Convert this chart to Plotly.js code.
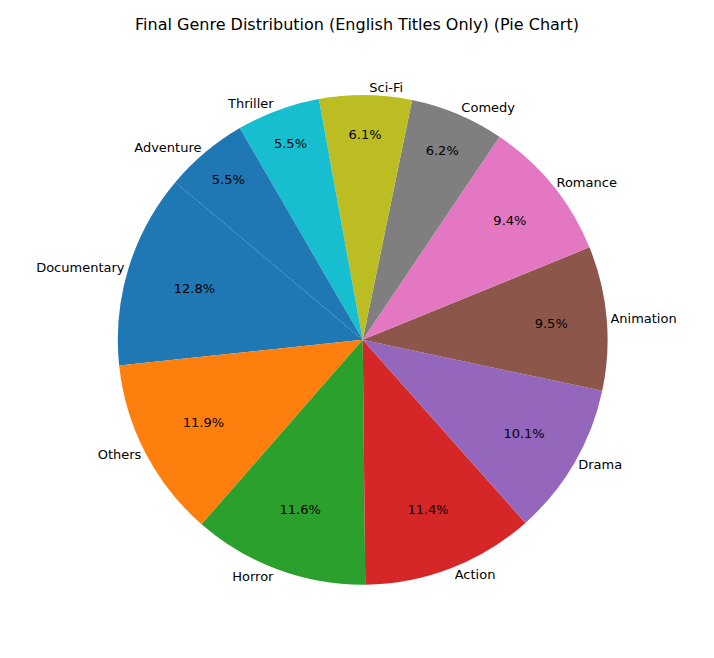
<!DOCTYPE html>
<html><head><script src="https://cdn.plot.ly/plotly-3.0.1.min.js"></script></head>
<body style="margin:0"><div id="app" style="width:714px;height:658px"></div>
<script>
const genres = ['Documentary','Others','Horror','Action','Drama','Animation','Romance','Comedy','Sci-Fi','Thriller','Adventure'];
const shares = [12.8, 11.9, 11.6, 11.4, 10.1, 9.5, 9.4, 6.2, 6.1, 5.5, 5.5];
const colors = ['#1f77b4','#ff7f0e','#2ca02c','#d62728','#9467bd','#8c564b','#e377c2','#7f7f7f','#bcbd22','#17becf','#1f77b4'];

const dom = {x: [0.165, 0.851], y: [0.111, 0.856]};
const base = {
  type: 'pie', labels: genres, values: shares, sort: false,
  direction: 'counterclockwise', rotation: -96, domain: dom, hoverinfo: 'none'
};
const inner = Object.assign({}, base, {
  marker: {colors: colors},
  texttemplate: '%{percent:.1%}', textposition: 'inside',
  insidetextorientation: 'horizontal',
  insidetextfont: {color: 'black', size: 13, family: 'DejaVu Sans'}
});
const outer = Object.assign({}, base, {
  marker: {colors: colors.map(() => 'rgba(0,0,0,0)')},
  textinfo: 'label', textposition: 'outside',
  outsidetextfont: {color: 'black', size: 13, family: 'DejaVu Sans'}
});

Plotly.newPlot('app', [inner, outer], {
  width: 714, height: 658, showlegend: false,
  margin: {l: 0, r: 0, t: 0, b: 0},
  paper_bgcolor: 'white',
  font: {family: 'DejaVu Sans', color: 'black'},
  title: {text: 'Final Genre Distribution (English Titles Only) (Pie Chart)',
          x: 0.5, y: 0.972, font: {size: 16}}
}, {displayModeBar: false});
</script></body></html>
